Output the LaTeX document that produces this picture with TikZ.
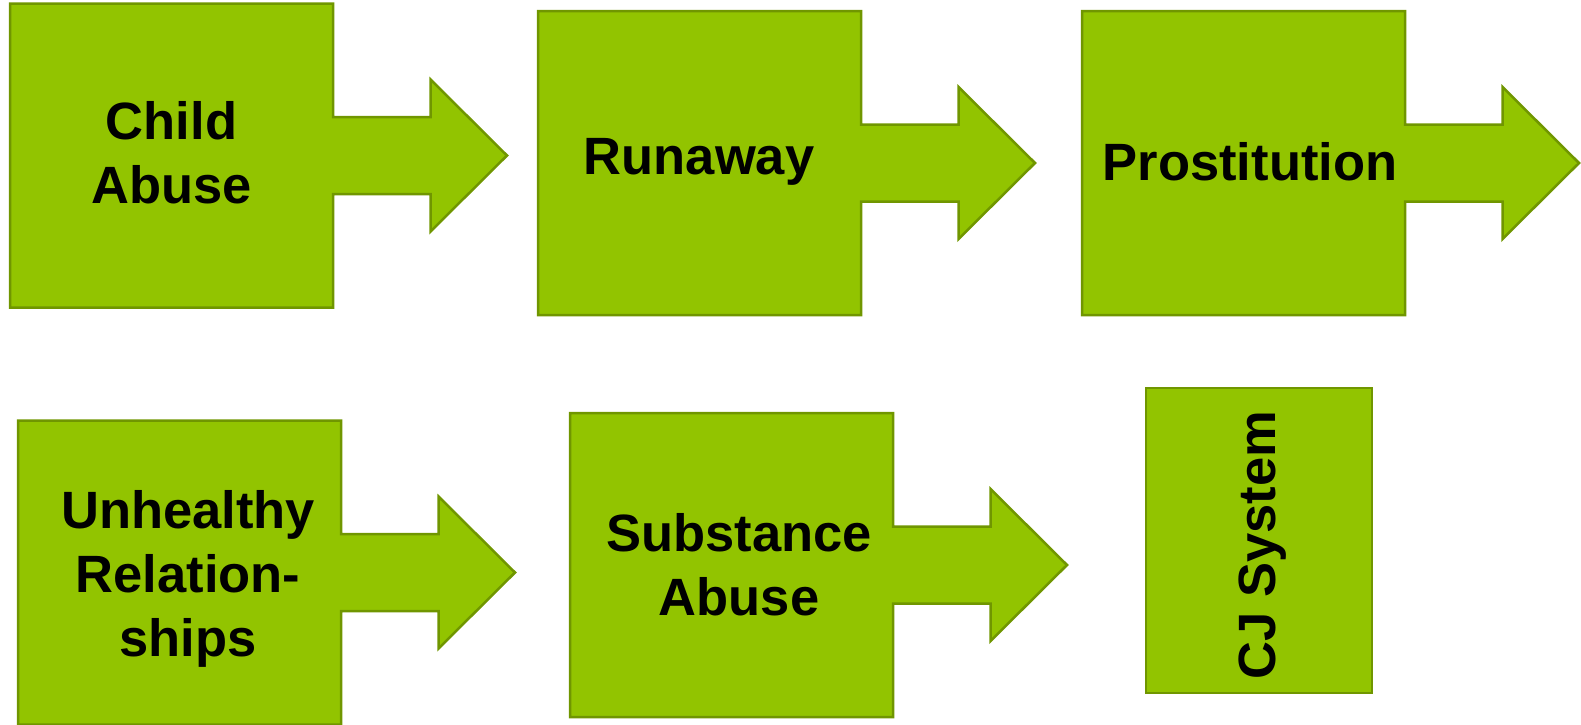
\documentclass[tikz,border=0pt]{standalone}
\usepackage{fontspec}
\setmainfont{Liberation Sans}
\definecolor{shapefill}{RGB}{146,196,0}
\definecolor{shapeline}{RGB}{112,150,0}
\tikzset{
  shapestyle/.style={fill=shapefill, draw=shapeline, line width=2.5pt, line join=miter},
  lbl/.style={font=\fontsize{52.5}{64}\selectfont\bfseries, text=black, align=center, inner sep=0pt},
  callout/.pic={
    \draw[shapestyle] (0,0) -- (323,0) -- (323,113.5) -- (420.5,113.5) -- (420.5,76)
      -- (497,152) -- (420.5,228) -- (420.5,190.5) -- (323,190.5) -- (323,304)
      -- (0,304) -- cycle;
  }
}
\begin{document}
\begin{tikzpicture}[x=1pt, y=-1pt]
\useasboundingbox (0,0) rectangle (1581,724);
% shapes
\pic at (10,3.5) {callout};
\pic at (538,11) {callout};
\pic at (1082,11) {callout};
\pic at (18,420.5) {callout};
\pic at (570,413) {callout};
\draw[shapestyle] (1146,388) rectangle (1372,693);
% labels
\node[lbl] (t1) at (171.5,153) {Child\\Abuse};
\node[lbl] (t2) at (699,162) {Runaway};
\node[lbl] (t3) at (1250,162) {Prostitution};
\node[lbl] (t4) at (188,578.5) {Unhealthy\\Relation-\\ships};
\node[lbl] (t5) at (739,565) {Substance\\Abuse};
\node[lbl, rotate=90] (t6) at (1263,545) {CJ System};
\end{tikzpicture}
\end{document}
